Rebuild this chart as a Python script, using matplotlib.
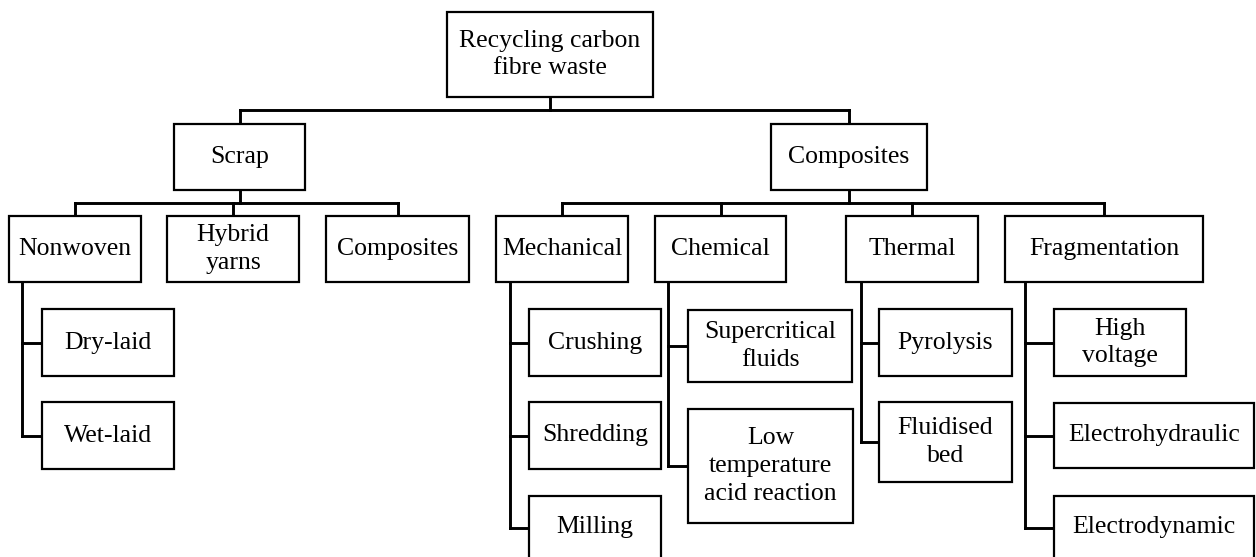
# -*- coding: utf-8 -*-
"""
Tree diagram: routes for recycling carbon fibre waste.
"""

import matplotlib.pyplot as plt
from matplotlib.patches import Rectangle

# ---- content of the tree ----
ROOT = "Recycling carbon\nfibre waste"
LEVEL1 = ["Scrap", "Composites"]
SCRAP_CHILDREN = ["Nonwoven", "Hybrid\nyarns", "Composites"]
COMPOSITE_CHILDREN = ["Mechanical", "Chemical", "Thermal", "Fragmentation"]
LEAVES = {
  "Nonwoven": ["Dry-laid", "Wet-laid"],
  "Mechanical": ["Crushing", "Shredding", "Milling"],
  "Chemical": ["Supercritical\nfluids", "Low\ntemperature\nacid reaction"],
  "Thermal": ["Pyrolysis", "Fluidised\nbed"],
  "Fragmentation": ["High\nvoltage", "Electrohydraulic", "Electrodynamic"],
}

# ---- layout (canvas pixels, y grows downwards) ----
W, H = 1256, 557
ROOT_BOX = (447, 653, 12, 97)
LEVEL1_Y = (124, 190)
LEVEL1_X = {"Scrap": (174, 305), "Composites": (771, 927)}
LEVEL1_BUS_Y = 110
LEVEL2_Y = (216, 282)
LEVEL2_BUS_Y = 203
LEVEL2_X = {
  "Scrap": [(9, 141), (167, 299), (326, 469)],
  "Composites": [(496, 628), (655, 786), (846, 978), (1005, 1203)],
}
# trunk x and leaf boxes (x0, x1, y0, y1) per parent
LEAF_TRUNK_X = {"Nonwoven": 22, "Mechanical": 510, "Chemical": 668,
                "Thermal": 861, "Fragmentation": 1025}
LEAF_BOXES = {
  "Nonwoven": [(42, 174, 309, 376), (42, 174, 402, 469)],
  "Mechanical": [(529, 661, 309, 376), (529, 661, 402, 469), (529, 661, 496, 559)],
  "Chemical": [(688, 852, 310, 382), (688, 853, 409, 523)],
  "Thermal": [(879, 1012, 309, 376), (879, 1012, 402, 482)],
  "Fragmentation": [(1054, 1186, 309, 376), (1054, 1254, 403, 468), (1054, 1254, 496, 559)],
}

BOX_LW = 1.6
LINE_LW = 2.1
FONT = dict(family=["Liberation Serif", "DejaVu Serif"], size=18.5, color="black")


def draw_box(ax, x0, x1, y0, y1, label):
  ax.add_patch(Rectangle((x0, y0), x1 - x0, y1 - y0, fill=True, fc="white",
                         ec="black", lw=BOX_LW, zorder=3))
  ax.text((x0 + x1) / 2, (y0 + y1) / 2, label, ha="center", va="center",
          linespacing=1.35, zorder=4, **FONT)


def line(ax, xs, ys):
  ax.plot(xs, ys, color="black", lw=LINE_LW, solid_capstyle="projecting",
          solid_joinstyle="miter", zorder=2)


def main():
  fig = plt.figure(figsize=(W / 100, H / 100), dpi=100)
  ax = fig.add_axes([0, 0, 1, 1])
  ax.set_xlim(0, W)
  ax.set_ylim(H, 0)
  ax.axis("off")

  # root
  rx0, rx1, ry0, ry1 = ROOT_BOX
  draw_box(ax, rx0, rx1, ry0, ry1, ROOT)
  root_cx = (rx0 + rx1) / 2
  line(ax, [root_cx, root_cx], [ry1, LEVEL1_BUS_Y])

  # level 1
  centers = [sum(LEVEL1_X[n]) / 2 for n in LEVEL1]
  line(ax, [min(centers), max(centers)], [LEVEL1_BUS_Y, LEVEL1_BUS_Y])
  children_of = {"Scrap": SCRAP_CHILDREN, "Composites": COMPOSITE_CHILDREN}
  for name, cx in zip(LEVEL1, centers):
    x0, x1 = LEVEL1_X[name]
    line(ax, [cx, cx], [LEVEL1_BUS_Y, LEVEL1_Y[0]])
    draw_box(ax, x0, x1, LEVEL1_Y[0], LEVEL1_Y[1], name)
    line(ax, [cx, cx], [LEVEL1_Y[1], LEVEL2_BUS_Y])

    # level 2
    spans = LEVEL2_X[name]
    ccs = [(a + b) / 2 for a, b in spans]
    line(ax, [min(ccs), max(ccs)], [LEVEL2_BUS_Y, LEVEL2_BUS_Y])
    for child, (a, b), ccx in zip(children_of[name], spans, ccs):
      line(ax, [ccx, ccx], [LEVEL2_BUS_Y, LEVEL2_Y[0]])
      draw_box(ax, a, b, LEVEL2_Y[0], LEVEL2_Y[1], child)

      # leaves hang off a trunk on the left side
      if child in LEAVES:
        tx = LEAF_TRUNK_X[child]
        boxes = LEAF_BOXES[child]
        mids = [(by0 + by1) / 2 for _, _, by0, by1 in boxes]
        line(ax, [tx, tx], [LEVEL2_Y[1], mids[-1]])
        for leaf, (bx0, bx1, by0, by1), my in zip(LEAVES[child], boxes, mids):
          line(ax, [tx, bx0], [my, my])
          draw_box(ax, bx0, bx1, by0, by1, leaf)

  fig.savefig("out.png", dpi=100, facecolor="white")
  plt.close(fig)


if __name__ == "__main__":
  main()
